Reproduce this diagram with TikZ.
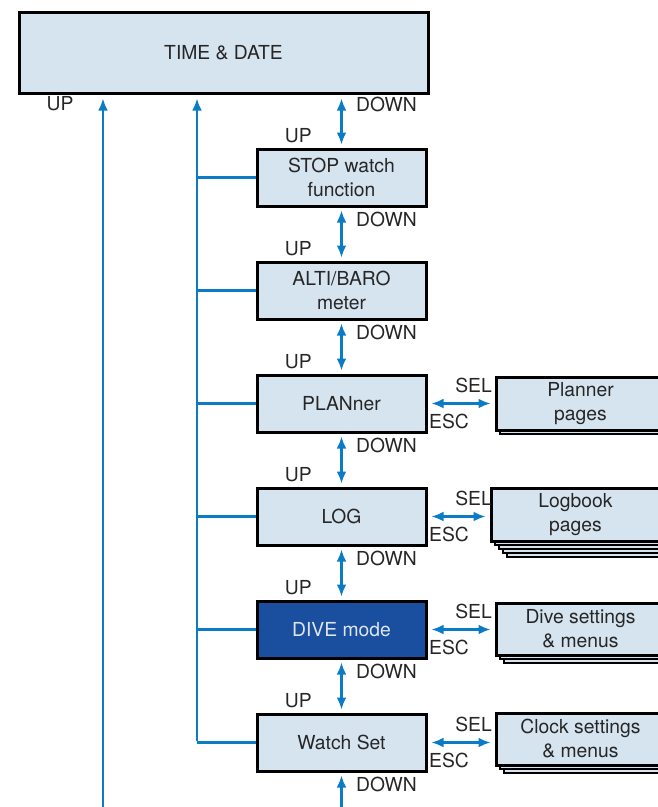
\documentclass[tikz,border=0pt]{standalone}
\usepackage{fontspec}
\setmainfont{TeX Gyre Heros}
\usetikzlibrary{arrows.meta}
\definecolor{lightfill}{HTML}{D6E4F0}
\definecolor{darkfill}{HTML}{1A4F9F}
\definecolor{arrowblue}{HTML}{0A7BC4}
\definecolor{txt}{HTML}{262626}
\definecolor{divetxt}{HTML}{DCE6F2}
\begin{document}
\begin{tikzpicture}[x=1pt,y=-1pt,
  every node/.style={font=\fontsize{19.3}{24}\selectfont, text=txt},
  box/.style={draw=black, line width=3pt, fill=lightfill, minimum width=169pt,
    minimum height=57pt, inner sep=0pt, align=center},
  pagebox/.style={box, minimum height=53pt},
  sheet/.style={draw=black, line width=2.6pt, fill=lightfill},
  dive/.style={box, fill=darkfill, text=divetxt},
  conn/.style={draw=arrowblue, line width=2.8pt},
  upa/.style={conn, -{Latex[length=12pt,width=10pt]}},
  bia/.style={conn, {Latex[length=12pt,width=10pt]}-{Latex[length=12pt,width=10pt]}},
  lbl/.style={inner sep=0pt}]
\useasboundingbox (0,0) rectangle (658,807);

% main box
\node[box, minimum width=409pt, minimum height=81pt] (td) at (223.5,52.5) {TIME \& DATE};

% stack
\node[box] (stop) at (341.5,177.5) {STOP watch\\function};
\node[box] (alti) at (341.5,290.5) {ALTI/BARO\\meter};
\node[box] (plan) at (341.5,403.5) {PLANner};
\node[box] (log)  at (341.5,516.5) {LOG};
\node[dive] (dm)  at (341.5,629.5) {DIVE mode};
\node[box] (ws)   at (341.5,742.5) {Watch Set};

% right-side stacked pages
\foreach \k in {1} {\draw[sheet] (496+4*\k,377+4*\k) rectangle ++(169,53);}
\node[pagebox] (plp) at (580.5,403.5) {Planner\\pages};
\foreach \k in {4,3,2,1} {\draw[sheet] (491+4*\k,488+4*\k) rectangle ++(169,53);}
\node[pagebox] (lbp) at (575.5,514.5) {Logbook\\pages};
\foreach \k in {2,1} {\draw[sheet] (496+4*\k,603+4*\k) rectangle ++(169,52);}
\node[pagebox, minimum height=52pt] (dsm) at (580.5,629) {Dive settings\\\& menus};
\foreach \k in {2,1} {\draw[sheet] (496+4*\k,713+4*\k) rectangle ++(169,52);}
\node[pagebox, minimum height=52pt] (csm) at (580.5,739) {Clock settings\\\& menus};

% left trunk lines
\coordinate (lb) at (103,807);
\draw[upa, shorten >=4pt] (lb) -- (lb |- td.south);
\coordinate (tr) at (197,741);
\draw[upa, shorten >=4pt] (tr) -- (tr |- td.south);
\foreach \n in {stop,alti,plan,log,dm,ws} {\draw[conn] (\n.west) -- (\n.west -| tr);}

% vertical double arrows
\draw[bia, shorten <=4pt, shorten >=3pt] (stop.north |- td.south) -- (stop.north);
\draw[bia, shorten <=3pt, shorten >=3pt] (stop.south) -- (alti.north);
\draw[bia, shorten <=3pt, shorten >=3pt] (alti.south) -- (plan.north);
\draw[bia, shorten <=3pt, shorten >=3pt] (plan.south) -- (log.north);
\draw[bia, shorten <=3pt, shorten >=3pt] (log.south) -- (dm.north);
\draw[bia, shorten <=3pt, shorten >=3pt] (dm.south) -- (ws.north);
\coordinate (bot) at (341.5,807);
\draw[upa, shorten >=3pt] (bot) -- (ws.south);

% horizontal SEL/ESC arrows
\draw[bia, shorten <=4pt, shorten >=4pt] (plan.east) -- (plan.east -| plp.west);
\draw[bia, shorten <=4pt, shorten >=4pt] (log.east) -- (log.east -| lbp.west);
\draw[bia, shorten <=4pt, shorten >=4pt] (dm.east) -- (dm.east -| dsm.west);
\draw[bia, shorten <=4pt, shorten >=4pt] (ws.east) -- (ws.east -| csm.west);

% labels
\node[lbl] (upl) at (60,104) {UP};
\node[lbl, anchor=west] (d0) at (356,104) {DOWN};
\foreach \n/\m in {stop/a,alti/b,plan/c,log/d,dm/e,ws/f} {
  \node[lbl, anchor=east] (up\m) at ([yshift=12pt]\n.north -| 312,0) {UP};
  \node[lbl, anchor=west] (dn\m) at ([yshift=-12pt]\n.south -| 356,0) {DOWN};
}
\foreach \n/\m in {plan/a,log/b,dm/c,ws/d} {
  \node[lbl, anchor=east] (sel\m) at ([yshift=18pt]\n.east -| 492,0) {SEL};
  \node[lbl, anchor=west] (esc\m) at ([yshift=-18pt]\n.east -| 429,0) {ESC};
}
\end{tikzpicture}
\end{document}
